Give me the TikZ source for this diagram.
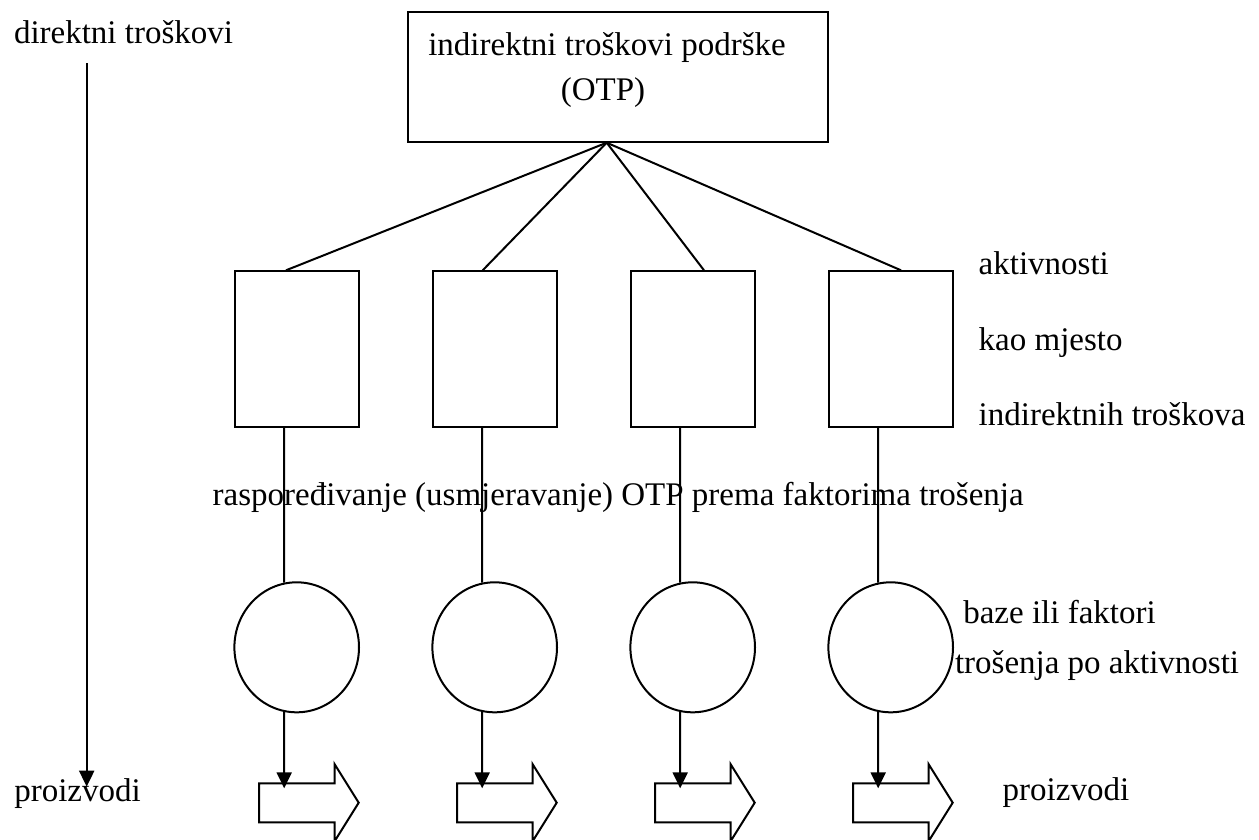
\documentclass[tikz,border=0pt]{standalone}
\usepackage{fontspec}
\setmainfont{Liberation Serif}
\usetikzlibrary{arrows.meta,shapes.geometric}
\tikzset{
  lbl/.style={anchor=base west,inner sep=0},
  aktbox/.style={draw,minimum width=124pt,minimum height=155.4pt,inner sep=0},
  baza/.style={draw,ellipse,minimum width=124.6pt,minimum height=130pt,inner sep=0},
  tok/.style={-{Triangle[width=15pt,length=16pt]}}
}
\begin{document}
\begin{tikzpicture}[x=1pt,y=-1pt,line width=2pt,font=\fontsize{33}{40}\selectfont]
\useasboundingbox (0,0) rectangle (1259,839);
\node[lbl] (dt) at (13,43) {direktni troškovi};
\node[lbl] (pl) at (13.3,801.7) {proizvodi};
\node[lbl] (pr) at (1001.7,800) {proizvodi};
\coordinate (dgore) at (86.7,63.3);
\coordinate (ddolje) at (86.7,786.7);
\draw[tok] (dgore) -- (ddolje);
\node[draw,minimum width=420pt,minimum height=129.4pt,inner sep=0] (otp) at (618,77) {};
\node[anchor=base,inner sep=0] (otp1) at (607,55) {indirektni troškovi podrške};
\node[anchor=base,inner sep=0] (otp2) at (603,100) {(OTP)};
\coordinate (vrh) at ([xshift=-11.3pt]otp.south);
\node[lbl] (akt1) at (977.7,274) {aktivnosti};
\node[lbl] (akt2) at (977.7,350) {kao mjesto};
\node[lbl] (akt3) at (977.7,425) {indirektnih troškova};
\node[lbl] (rasp) at (211.7,505) {raspoređivanje (usmjeravanje) OTP prema faktorima trošenja};
\node[lbl] (baze1) at (962.3,623.3) {baze ili faktori};
\node[lbl] (baze2) at (954,673.3) {trošenja po aktivnosti};
\foreach \i/\dx in {1/-10.7,2/-12,3/11.3,4/10.3} {
  \pgfmathsetmacro\xc{296.7+198*(\i-1)}
  \pgfmathsetmacro\xl{\xc-37.7}
  \node[aktbox] (a\i) at (\xc,349) {};
  \node[baza] (b\i) at (\xc,647.3) {};
  \coordinate (p\i) at ({\xc-12.5},788.3);
  \draw (vrh) -- ([xshift=\dx pt]a\i.north);
  \draw ([xshift=-12.5pt]a\i.south) -- (b\i.101);
  \draw (\xl,783.3) -- ({\xl+75.5},783.3) -- ({\xl+75.5},764) -- ({\xl+99.7},802.7)
    -- ({\xl+75.5},841.4) -- ({\xl+75.5},822.3) -- (\xl,822.3) -- cycle;
  \draw[tok] (b\i.259) -- (p\i);
}
\end{tikzpicture}
\end{document}
